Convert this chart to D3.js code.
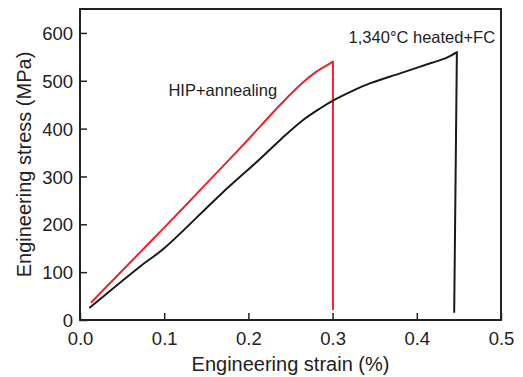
<!DOCTYPE html>
<html>
<head>
<meta charset="utf-8">
<script src="https://cdn.jsdelivr.net/npm/d3@7"></script>
<style>
  body { margin: 0; background: #fff; }
  svg { display: block; font-family: "Liberation Sans", Arial, sans-serif; }
</style>
</head>
<body>
<div id="chart"></div>
<script>
// strain (%) / stress (MPa), last point = fracture drop
const hipStrain = [0.013, 0.05, 0.1, 0.15, 0.1885, 0.232, 0.25, 0.265, 0.28, 0.292, 0.3004, 0.3004];
const hipStress = [36, 103, 193, 285, 356, 439, 472, 497, 518, 531, 540, 21];

const heatStrain = [0.011, 0.0714, 0.1, 0.1667, 0.214, 0.24, 0.265, 0.285, 0.302, 0.325, 0.345, 0.381, 0.417, 0.435, 0.4476, 0.4444];
const heatStress = [25, 112, 150, 262, 337, 380, 418, 442, 460, 480, 495, 516, 537, 548, 560, 15];

const xTicks = [0, 0.1, 0.2, 0.3, 0.4, 0.5];
const yTicks = [0, 100, 200, 300, 400, 500, 600];

const series = [
  { name: 'HIP+annealing', xs: hipStrain, ys: hipStress, color: '#e8252b', label: [0.105, 468] },
  { name: '1,340°C heated+FC', xs: heatStrain, ys: heatStress, color: '#1a1a1a', label: [0.319, 578] }
];

const width = 523, height = 377;
const margin = { top: 9, right: 22, bottom: 57, left: 80 };

const svg = d3.select('#chart').append('svg').attr('width', width).attr('height', height);

const x = d3.scaleLinear().domain([0, 0.5]).range([margin.left, width - margin.right]);
const y = d3.scaleLinear().domain([0, 650]).range([height - margin.bottom, margin.top]);

const xAxis = d3.axisBottom(x).tickValues(xTicks).tickFormat(d3.format('.1f')).tickSizeInner(-7).tickSizeOuter(0).tickPadding(12);
const yAxis = d3.axisLeft(y).tickValues(yTicks).tickFormat(d3.format('d')).tickSizeInner(-7).tickSizeOuter(0).tickPadding(7);

const gx = svg.append('g').attr('transform', `translate(0,${height - margin.bottom})`).call(xAxis);
const gy = svg.append('g').attr('transform', `translate(${margin.left},0)`).call(yAxis);
[gx, gy].forEach(g => {
  g.select('.domain').remove();
  g.selectAll('.tick line').attr('stroke', '#222').attr('stroke-width', 1.5);
  g.selectAll('.tick text').attr('fill', '#222').style('font-size', '18.5px');
});
gy.selectAll('.tick text').attr('dy', '0.36em');

// curves: smooth rise, straight fracture drop
const rise = d3.line().x(d => x(d[0])).y(d => y(d[1])).curve(d3.curveCatmullRom.alpha(0.5));
series.forEach(s => {
  const pts = s.xs.map((v, i) => [v, s.ys[i]]);
  const last = pts[pts.length - 1];
  svg.append('path')
    .attr('fill', 'none').attr('stroke', s.color).attr('stroke-width', 2)
    .attr('stroke-linejoin', 'round')
    .attr('d', rise(pts.slice(0, -1)) + `L${x(last[0])},${y(last[1])}`);
  svg.append('text')
    .attr('x', x(s.label[0])).attr('y', y(s.label[1]))
    .attr('fill', '#222').style('font-size', '16.5px')
    .text(s.name);
});

// frame
svg.append('rect')
  .attr('x', margin.left).attr('y', margin.top)
  .attr('width', width - margin.left - margin.right)
  .attr('height', height - margin.top - margin.bottom)
  .attr('fill', 'none').attr('stroke', '#222').attr('stroke-width', 2);

// axis titles
svg.append('text')
  .attr('x', (margin.left + width - margin.right) / 2).attr('y', 371)
  .attr('text-anchor', 'middle').attr('fill', '#222').style('font-size', '20px')
  .text('Engineering strain (%)');
svg.append('text')
  .attr('transform', `translate(31,${(margin.top + height - margin.bottom) / 2}) rotate(-90)`)
  .attr('text-anchor', 'middle').attr('fill', '#222').style('font-size', '20px')
  .text('Engineering stress (MPa)');
</script>
</body>
</html>
